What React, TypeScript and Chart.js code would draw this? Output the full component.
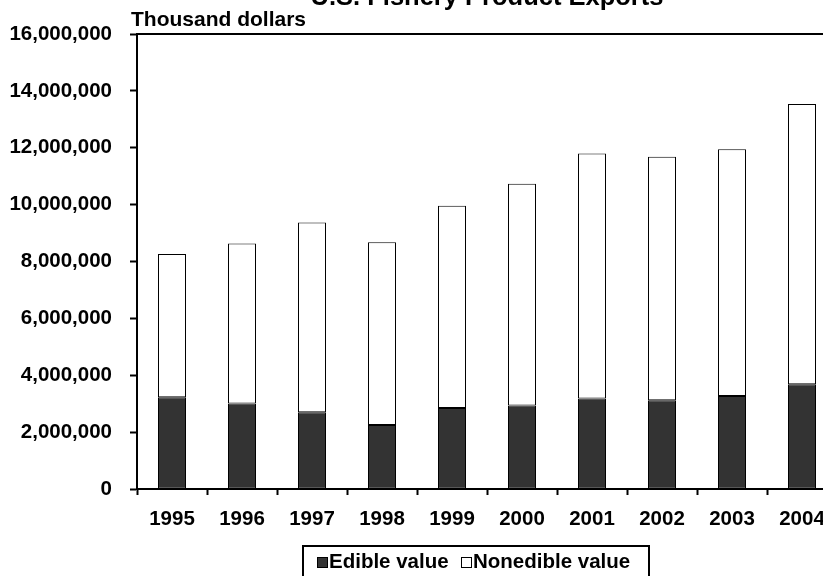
import React, { useEffect, useRef } from "react";
import { Chart, registerables } from "chart.js";

Chart.register(...registerables);

const years = ["1995", "1996", "1997", "1998", "1999", "2000", "2001", "2002", "2003", "2004"];
const edibleValue = [3230000, 3010000, 2700000, 2250000, 2850000, 2940000, 3180000, 3120000, 3270000, 3680000];
const nonedibleValue = [5030000, 5620000, 6670000, 6430000, 7110000, 7790000, 8620000, 8560000, 8680000, 9860000];
const yMin = 0;
const yMax = 16000000;
const yStep = 2000000;
const titleText = "U.S. Fishery Product Exports";
const unitText = "Thousand dollars";
const legendLabels = ["Edible value", "Nonedible value"];

const FONT = '"Liberation Sans", Arial, Helvetica, sans-serif';

const decorPlugin = {
  id: "decor",
  afterDraw(chart: any) {
    const { ctx, chartArea } = chart;
    ctx.save();
    ctx.strokeStyle = "#000";
    ctx.lineWidth = 2;
    ctx.beginPath();
    ctx.moveTo(chartArea.left, chartArea.top);
    ctx.lineTo(chartArea.right, chartArea.top);
    ctx.stroke();
    ctx.fillStyle = "#000";
    ctx.font = `bold 25.5px ${FONT}`;
    ctx.textAlign = "center";
    ctx.textBaseline = "alphabetic";
    ctx.fillText(titleText, (chartArea.left + chartArea.right) / 2, 5);
    ctx.font = `bold 21px ${FONT}`;
    ctx.textAlign = "left";
    ctx.fillText(unitText, chartArea.left - 6, 26);
    ctx.restore();
  },
};

export default function App() {
  const ref = useRef<HTMLCanvasElement | null>(null);

  useEffect(() => {
    if (!ref.current) return;
    const chart = new Chart(ref.current, {
      type: "bar",
      data: {
        labels: years,
        datasets: [
          {
            label: legendLabels[0],
            data: edibleValue,
            backgroundColor: "#333333",
            borderColor: "#000",
            borderWidth: 1,
            borderSkipped: false,
            barPercentage: 0.4,
            categoryPercentage: 1,
          },
          {
            label: legendLabels[1],
            data: nonedibleValue,
            backgroundColor: "#ffffff",
            borderColor: "#000",
            borderWidth: 1,
            borderSkipped: false,
            barPercentage: 0.4,
            categoryPercentage: 1,
          },
        ],
      },
      options: {
        animation: false,
        responsive: false,
        devicePixelRatio: 1,
        layout: { padding: { top: 34, left: 0, right: 63, bottom: 0 } },
        plugins: {
          legend: { display: false },
          tooltip: { enabled: false },
          title: { display: false },
        },
        scales: {
          x: {
            stacked: true,
            grid: {
              display: true,
              drawOnChartArea: false,
              drawTicks: true,
              tickLength: 6,
              tickColor: "#000",
              tickWidth: 2,
              offset: true,
            },
            border: { display: true, color: "#000", width: 2 },
            ticks: {
              color: "#000",
              font: { family: FONT, size: 20.5, weight: "bold" },
              padding: 12,
              maxRotation: 0,
              autoSkip: false,
            },
            afterFit(axis: any) {
              axis.height = 87;
            },
          },
          y: {
            stacked: true,
            min: yMin,
            max: yMax,
            grid: {
              display: true,
              drawOnChartArea: false,
              drawTicks: true,
              tickLength: 7,
              tickColor: "#000",
              tickWidth: 2,
            },
            border: { display: true, color: "#000", width: 2 },
            ticks: {
              stepSize: yStep,
              color: "#000",
              font: { family: FONT, size: 20.5, weight: "bold" },
              padding: 18,
              callback: (v: any) => Number(v).toLocaleString("en-US"),
            },
            afterFit(axis: any) {
              axis.width = 137;
            },
          },
        },
      },
      plugins: [decorPlugin],
    });
    return () => chart.destroy();
  }, []);

  const textStyle: React.CSSProperties = {
    position: "absolute",
    fontFamily: FONT,
    fontWeight: "bold",
    fontSize: "20.5px",
    lineHeight: "20px",
    whiteSpace: "nowrap",
    color: "#000",
  };
  const markerStyle = (bg: string): React.CSSProperties => ({
    position: "absolute",
    width: 11,
    height: 11,
    boxSizing: "border-box",
    border: "1px solid #000",
    background: bg,
  });

  return (
    <div
      style={{
        position: "fixed",
        left: 0,
        top: 0,
        width: 823,
        height: 576,
        overflow: "hidden",
        background: "#fff",
      }}
    >
      <canvas ref={ref} width={900} height={576} style={{ position: "absolute", left: 0, top: 0 }} />
      <div
        style={{
          position: "absolute",
          left: 302,
          top: 545,
          width: 348,
          height: 35,
          boxSizing: "border-box",
          border: "2px solid #000",
        }}
      />
      <div style={{ ...markerStyle("#333333"), left: 317, top: 557 }} />
      <div style={{ ...textStyle, left: 329, top: 551 }}>{legendLabels[0]}</div>
      <div style={{ ...markerStyle("#ffffff"), left: 461, top: 557 }} />
      <div style={{ ...textStyle, left: 473, top: 551 }}>{legendLabels[1]}</div>
    </div>
  );
}
